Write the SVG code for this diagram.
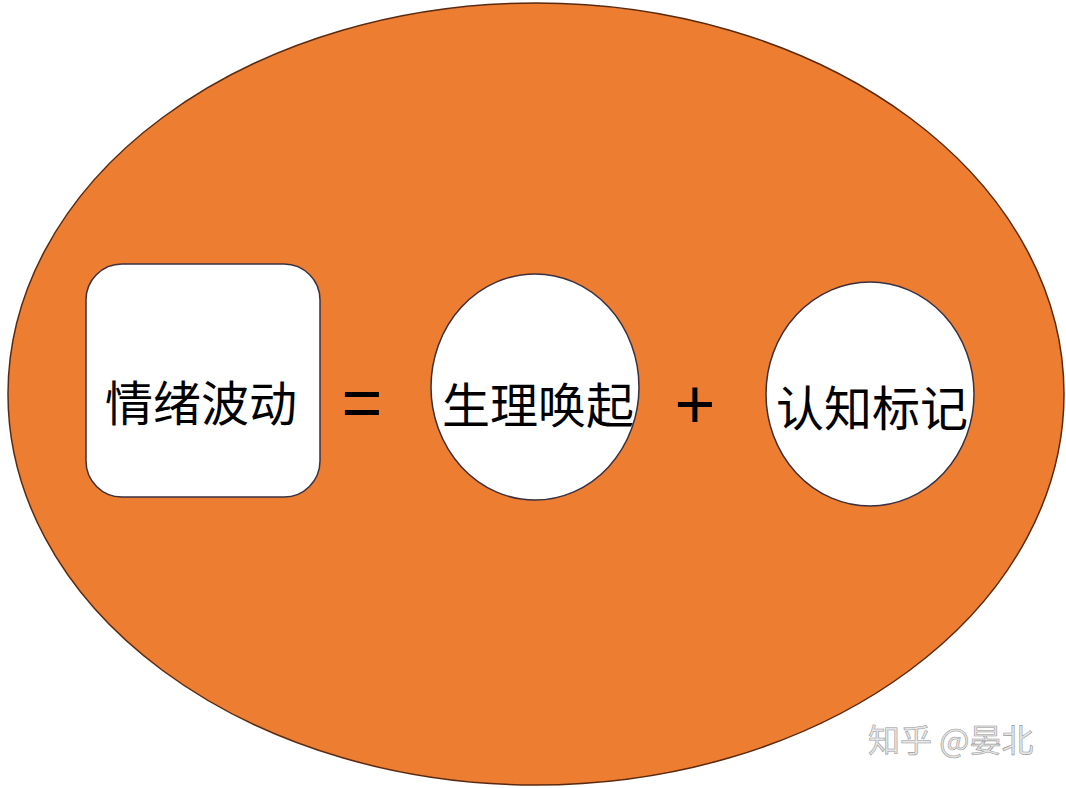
<svg xmlns="http://www.w3.org/2000/svg" width="1066" height="788" viewBox="0 0 1066 788">
<style>
.node{fill:#ffffff;stroke:#3a3040;stroke-width:1.5}
.lbl{font-family:"Noto Sans CJK SC","Noto Sans CJK TC",serif;font-size:48px;fill:#000;text-anchor:middle;dominant-baseline:central}
.op{font-family:"Liberation Sans","DejaVu Sans",sans-serif;font-size:70px;fill:#000;text-anchor:middle;dominant-baseline:central}
.wm{font-family:"Noto Sans CJK SC",sans-serif;font-size:32px;fill:#e6e6e6;stroke:#9a9a9a;stroke-width:0.6}
</style>
<rect width="1066" height="788" fill="#ffffff"/>
<g id="background">
<ellipse cx="536" cy="394" rx="528" ry="391" fill="#ED7D31" stroke="#5a2a10" stroke-width="1.5"/>
</g>
<g id="node-emotion">
<rect class="node" x="86" y="264" width="234" height="233" rx="36" ry="36"/>
<text class="lbl" x="201" y="400">情绪波动</text>
</g>
<g id="op-equals">
<text class="op" x="362" y="403">=</text>
</g>
<g id="node-arousal">
<ellipse class="node" cx="535" cy="387" rx="104" ry="113"/>
<text class="lbl" x="538" y="402">生理唤起</text>
</g>
<g id="op-plus">
<text class="op" x="695" y="404">+</text>
</g>
<g id="node-cognition">
<ellipse class="node" cx="870" cy="394" rx="104" ry="112"/>
<text class="lbl" x="872" y="405">认知标记</text>
</g>
<g id="connectors"></g>
<g id="watermark">
<text class="wm" x="868" y="752">知乎 @晏北</text>
</g>
</svg>
